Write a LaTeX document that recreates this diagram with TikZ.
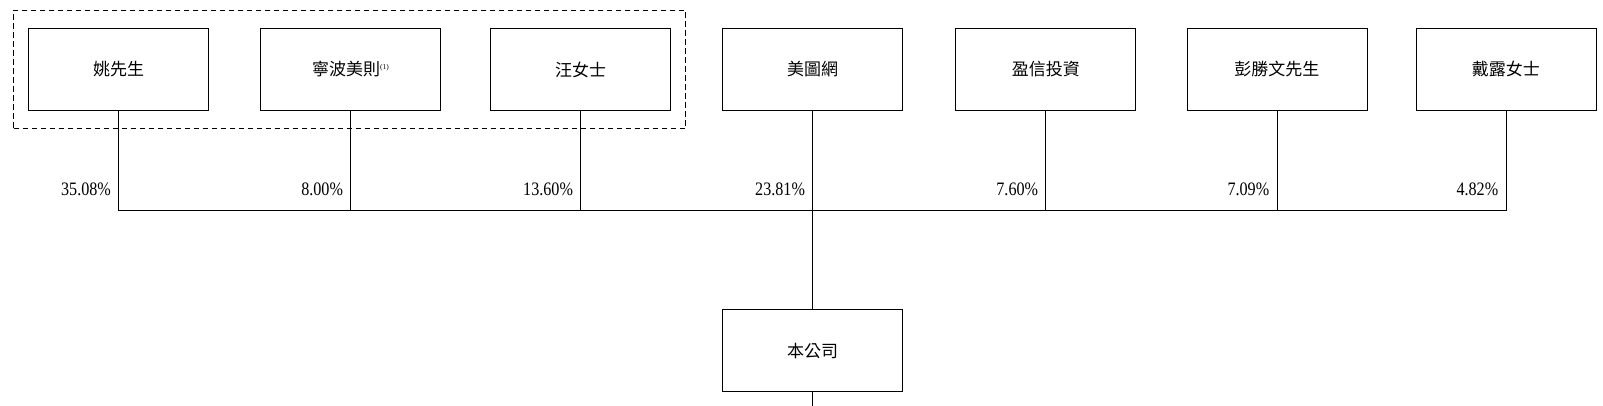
\documentclass[tikz,border=0pt]{standalone}
\usepackage{fontspec}
\setmainfont{Liberation Serif}
\newfontfamily\cjk{Noto Sans CJK TC}
\newfontfamily\pctfont[FakeStretch=0.85]{Liberation Serif}
\usetikzlibrary{fit}

\tikzset{
  holder/.style={draw,line width=0.8pt,minimum width=180pt,minimum height=82pt,inner sep=0pt,font=\cjk\fontsize{17}{20}\selectfont},
  pct/.style={left,inner sep=0pt,xshift=-7.5pt,font=\pctfont\fontsize{19}{22}\selectfont},
  link/.style={line width=0.8pt}
}

\begin{document}
\begin{tikzpicture}[x=1pt,y=-1pt]
  \useasboundingbox (0,0) rectangle (1603,406);
  \node[holder] (yao) at (118.6,69.5) {姚先生};
  \node[holder] (nb) at (350.7,69.5) {寧波美則\textsuperscript{\rmfamily\fontsize{7.5}{8}\selectfont(1)}};
  \node[holder] (wang) at (580.7,69.5) {汪女士};
  \node[holder] (mtw) at (812.7,69.5) {美圖網};
  \node[holder] (yx) at (1045.8,69.5) {盈信投資};
  \node[holder] (peng) at (1276.9,69.5) {彭勝文先生};
  \node[holder] (dai) at (1505.9,69.5) {戴露女士};
  \node[holder] (co) at (812.7,350.6) {本公司};
  \node[draw,dashed,line width=0.8pt,dash pattern=on 5.5pt off 3.5pt,inner xsep=14.5pt,inner ysep=18pt,fit=(yao)(wang)] (grp) {};

  \coordinate (bus) at (0,210.6);
  \coordinate (b1) at (yao.south |- bus); \coordinate (b2) at (nb.south |- bus);
  \coordinate (b3) at (wang.south |- bus); \coordinate (b4) at (mtw.south |- bus);
  \coordinate (b5) at (yx.south |- bus); \coordinate (b6) at (peng.south |- bus);
  \coordinate (b7) at (dai.south |- bus);
  \coordinate (tail) at (812.7,406);

  \draw[link] (yao.south) -- (b1); \draw[link] (nb.south) -- (b2);
  \draw[link] (wang.south) -- (b3); \draw[link] (yx.south) -- (b5);
  \draw[link] (peng.south) -- (b6); \draw[link] (dai.south) -- (b7);
  \draw[link] (b1) -- (b7);
  \draw[link] (mtw.south) -- (co.north);
  \draw[link] (co.south) -- (tail);

  \node[pct] (p1) at (118.6,189.5) {35.08\%};
  \node[pct] (p2) at (350.7,189.5) {8.00\%};
  \node[pct] (p3) at (580.7,189.5) {13.60\%};
  \node[pct] (p4) at (812.7,189.5) {23.81\%};
  \node[pct] (p5) at (1045.8,189.5) {7.60\%};
  \node[pct] (p6) at (1276.9,189.5) {7.09\%};
  \node[pct] (p7) at (1505.9,189.5) {4.82\%};
\end{tikzpicture}
\end{document}
